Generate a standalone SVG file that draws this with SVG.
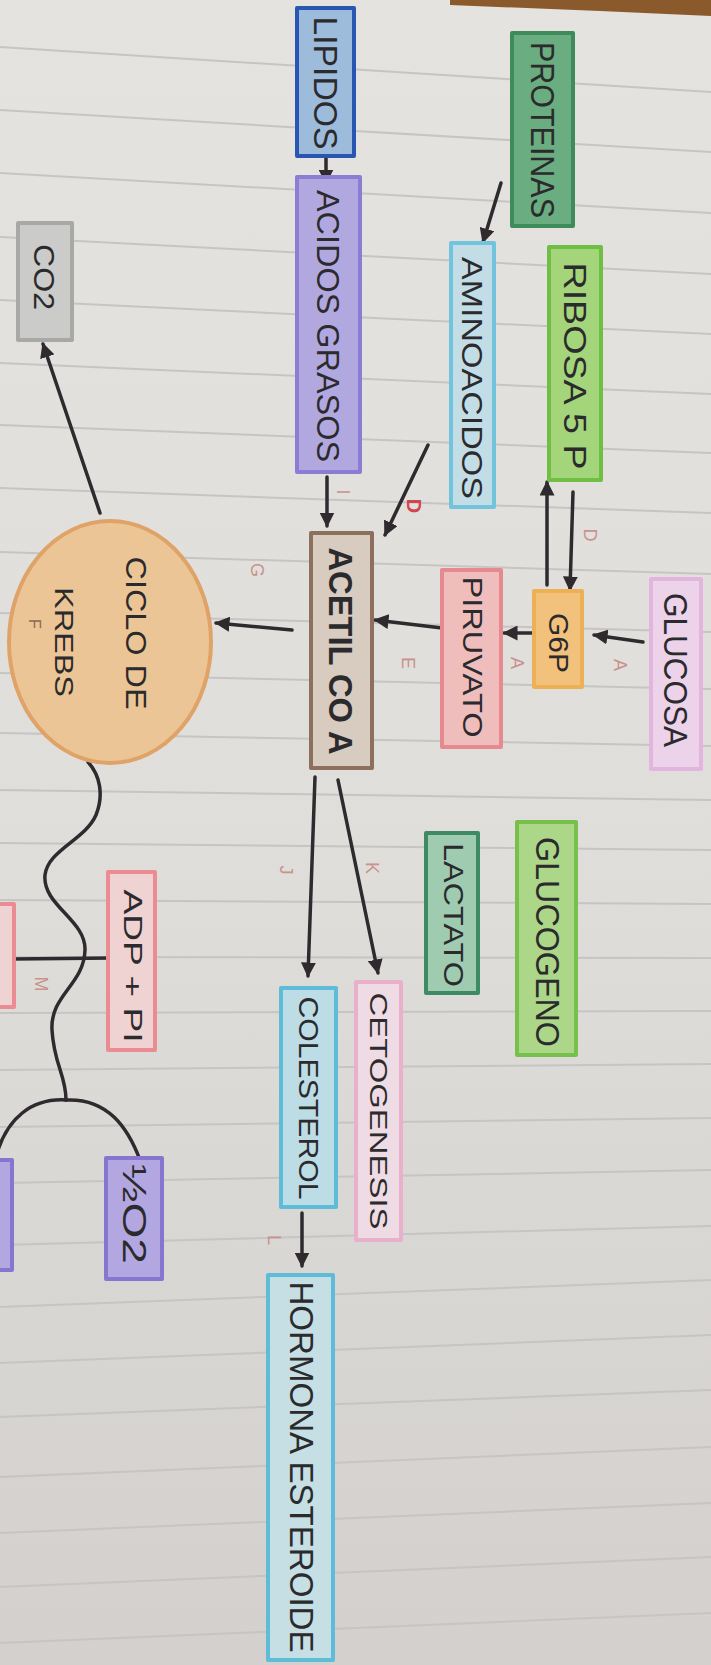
<svg xmlns="http://www.w3.org/2000/svg" width="711" height="1665" viewBox="0 0 711 1665">
<defs>
<linearGradient id="paper" x1="0" y1="0" x2="0" y2="1">
<stop offset="0" stop-color="#e4e3e0"/>
<stop offset="0.5" stop-color="#dfdedb"/>
<stop offset="1" stop-color="#d3d0cd"/>
</linearGradient>
<marker id="ah" viewBox="0 0 10 10" refX="9" refY="5" markerWidth="15" markerHeight="15" markerUnits="userSpaceOnUse" orient="auto">
<path d="M0,0 L10,5 L0,10 z" fill="#2f2a2e"/>
</marker>
<style>
.box{stroke-width:4;stroke-linejoin:round}
.t{font-family:"Liberation Sans",Arial,sans-serif;fill:#2b2a2c;text-anchor:middle;dominant-baseline:central}
.lbl{font-family:"Liberation Sans",Arial,sans-serif;fill:#c9928a;text-anchor:middle;dominant-baseline:central;font-size:18px}
.ln{stroke:#2f2a2e;stroke-width:3.5;fill:none;stroke-linecap:round}
.rule{stroke:#c6c5c3;stroke-width:2}
</style>
</defs>
<rect width="711" height="1665" fill="url(#paper)"/>
<g id="paper-lines">
<line class="rule" x1="0" y1="47" x2="711" y2="92"/>
<line class="rule" x1="0" y1="110" x2="711" y2="152"/>
<line class="rule" x1="0" y1="173" x2="711" y2="213"/>
<line class="rule" x1="0" y1="237" x2="711" y2="274"/>
<line class="rule" x1="0" y1="300" x2="711" y2="334"/>
<line class="rule" x1="0" y1="363" x2="711" y2="394"/>
<line class="rule" x1="0" y1="425" x2="711" y2="453"/>
<line class="rule" x1="0" y1="488" x2="711" y2="513"/>
<line class="rule" x1="0" y1="552" x2="711" y2="574"/>
<line class="rule" x1="0" y1="613" x2="711" y2="632"/>
<line class="rule" x1="0" y1="673" x2="711" y2="689"/>
<line class="rule" x1="0" y1="733" x2="711" y2="746"/>
<line class="rule" x1="0" y1="790" x2="711" y2="800"/>
<line class="rule" x1="0" y1="843" x2="711" y2="850"/>
<line class="rule" x1="0" y1="900" x2="711" y2="904"/>
<line class="rule" x1="0" y1="957" x2="711" y2="958"/>
<line class="rule" x1="0" y1="1013" x2="711" y2="1011"/>
<line class="rule" x1="0" y1="1070" x2="711" y2="1064"/>
<line class="rule" x1="0" y1="1127" x2="711" y2="1118"/>
<line class="rule" x1="0" y1="1183" x2="711" y2="1170"/>
<line class="rule" x1="0" y1="1245" x2="711" y2="1226"/>
<line class="rule" x1="0" y1="1307" x2="711" y2="1280"/>
<line class="rule" x1="0" y1="1363" x2="711" y2="1335"/>
<line class="rule" x1="0" y1="1417" x2="711" y2="1390"/>
<line class="rule" x1="0" y1="1477" x2="711" y2="1447"/>
<line class="rule" x1="0" y1="1533" x2="711" y2="1503"/>
<line class="rule" x1="0" y1="1587" x2="711" y2="1557"/>
<line class="rule" x1="0" y1="1643" x2="711" y2="1613"/>
</g>
<polygon points="450,0 711,0 711,16 600,11 450,5" fill="#8a5a2c"/>

<g id="connectors">
<line class="ln" x1="501" y1="183" x2="483" y2="242" marker-end="url(#ah)"/>
<line class="ln" x1="326" y1="157" x2="326" y2="183" marker-end="url(#ah)"/>
<line class="ln" x1="327" y1="477" x2="327" y2="526" marker-end="url(#ah)"/>
<line class="ln" x1="428" y1="445" x2="385" y2="535" marker-end="url(#ah)"/>
<line class="ln" x1="547" y1="585" x2="547" y2="482" marker-end="url(#ah)"/>
<line class="ln" x1="573" y1="492" x2="570" y2="590" marker-end="url(#ah)"/>
<line class="ln" x1="643" y1="642" x2="594" y2="635" marker-end="url(#ah)"/>
<line class="ln" x1="533" y1="633" x2="504" y2="633" marker-end="url(#ah)"/>
<line class="ln" x1="442" y1="628" x2="375" y2="620" marker-end="url(#ah)"/>
<line class="ln" x1="292" y1="630" x2="216" y2="623" marker-end="url(#ah)"/>
<line class="ln" x1="100" y1="513" x2="43" y2="344" marker-end="url(#ah)"/>
<line class="ln" x1="315" y1="777" x2="308" y2="976" marker-end="url(#ah)"/>
<line class="ln" x1="338" y1="780" x2="378" y2="973" marker-end="url(#ah)"/>
<line class="ln" x1="302" y1="1213" x2="302" y2="1266" marker-end="url(#ah)"/>
<path class="ln" d="M88 762 C100 775,104 795,96 815 C85 840,48 850,45 875 C42 905,86 920,85 950 C84 985,50 995,52 1030 C54 1065,66 1075,66 1100"/>
<path class="ln" d="M66 1100 C30 1098,8 1120,-2 1150"/>
<path class="ln" d="M66 1100 C108 1098,128 1128,140 1160"/>
<line class="ln" x1="13" y1="959" x2="112" y2="958" stroke-width="5"/>
</g>

<g id="labels">
<text class="lbl" transform="translate(349,222) rotate(90)" font-size="12">H</text>
<text class="lbl" transform="translate(343,492) rotate(90)">I</text>
<text class="lbl" transform="translate(414,506) rotate(90)" style="fill:#d2454f;font-weight:bold;font-size:20px">D</text>
<text class="lbl" transform="translate(590,535) rotate(90)">D</text>
<text class="lbl" transform="translate(620,665) rotate(90)">A</text>
<text class="lbl" transform="translate(517,663) rotate(90)">A</text>
<text class="lbl" transform="translate(408,663) rotate(90)">E</text>
<text class="lbl" transform="translate(257,570) rotate(90)">G</text>
<text class="lbl" transform="translate(286,870) rotate(90)">J</text>
<text class="lbl" transform="translate(372,868) rotate(90)">K</text>
<text class="lbl" transform="translate(274,1240) rotate(90)">L</text>
<text class="lbl" transform="translate(41,984) rotate(90)">M</text>
</g>

<g id="node-proteinas">
<rect class="box" x="512" y="33" width="61" height="193" fill="#6aad80" stroke="#3d8c5a"/>
<text class="t" transform="translate(543,130) rotate(90)" font-size="34" textLength="176" lengthAdjust="spacingAndGlyphs">PROTEINAS</text>
</g>
<g id="node-lipidos">
<rect class="box" x="297" y="8" width="57" height="148" fill="#9dbcdc" stroke="#2856b0" stroke-width="5"/>
<text class="t" transform="translate(326,83) rotate(90)" font-size="34" textLength="133" lengthAdjust="spacingAndGlyphs">LIPIDOS</text>
</g>
<g id="node-acidos-grasos">
<rect class="box" x="297" y="177" width="63" height="295" fill="#b2a8e0" stroke="#8b7dd3"/>
<text class="t" transform="translate(328,326) rotate(90)" font-size="32" textLength="272" lengthAdjust="spacingAndGlyphs">ACIDOS GRASOS</text>
</g>
<g id="node-co2">
<rect class="box" x="18" y="223" width="54" height="117" fill="#cbcbc9" stroke="#a8a8a6"/>
<text class="t" transform="translate(44,277) rotate(90)" font-size="30" textLength="66" lengthAdjust="spacingAndGlyphs">CO2</text>
</g>
<g id="node-aminoacidos">
<rect class="box" x="451" y="243" width="43" height="264" fill="#c2dde6" stroke="#72c3dc"/>
<text class="t" transform="translate(472,378) rotate(90)" font-size="30" textLength="242" lengthAdjust="spacingAndGlyphs">AMINOACIDOS</text>
</g>
<g id="node-ribosa">
<rect class="box" x="549" y="247" width="52" height="233" fill="#a4d57a" stroke="#6fbf45"/>
<text class="t" transform="translate(575,366) rotate(90)" font-size="32" textLength="207" lengthAdjust="spacingAndGlyphs">RIBOSA 5 P</text>
</g>
<g id="node-glucosa">
<rect class="box" x="651" y="579" width="50" height="190" fill="#ecd3ea" stroke="#e3b4e0"/>
<text class="t" transform="translate(676,670) rotate(90)" font-size="34" textLength="154" lengthAdjust="spacingAndGlyphs">GLUCOSA</text>
</g>
<g id="node-g6p">
<rect class="box" x="534" y="591" width="48" height="96" fill="#f2c27c" stroke="#edb055"/>
<text class="t" transform="translate(558,643) rotate(90)" font-size="28" textLength="60" lengthAdjust="spacingAndGlyphs">G6P</text>
</g>
<g id="node-piruvato">
<rect class="box" x="442" y="570" width="59" height="177" fill="#efbdbc" stroke="#e68a8f"/>
<text class="t" transform="translate(472,657) rotate(90)" font-size="28" textLength="161" lengthAdjust="spacingAndGlyphs">PIRUVATO</text>
</g>
<g id="node-acetil-coa">
<rect class="box" x="311" y="533" width="61" height="235" fill="#d8cbc0" stroke="#8c6f5c"/>
<text class="t" transform="translate(341,651) rotate(90)" font-size="34" font-weight="bold" textLength="207" lengthAdjust="spacingAndGlyphs">ACETIL CO A</text>
</g>
<g id="node-krebs">
<ellipse cx="110" cy="642" rx="101" ry="121" fill="#ecc596" stroke="#e0a367" stroke-width="4"/>
<text class="t" transform="translate(136,633) rotate(90)" font-size="30" textLength="153" lengthAdjust="spacingAndGlyphs">CICLO DE</text>
<text class="t" transform="translate(64,642) rotate(90)" font-size="26" textLength="110" lengthAdjust="spacingAndGlyphs">KREBS</text>
<text class="t" transform="translate(34,624) rotate(90)" font-size="16" style="fill:#8a6a50">F</text>
</g>
<g id="node-glucogeno">
<rect class="box" x="517" y="822" width="59" height="233" fill="#acd688" stroke="#76c04b"/>
<text class="t" transform="translate(548,942) rotate(90)" font-size="34" textLength="210" lengthAdjust="spacingAndGlyphs">GLUCOGENO</text>
</g>
<g id="node-lactato">
<rect class="box" x="426" y="833" width="52" height="160" fill="#9fcbb1" stroke="#3d8a64"/>
<text class="t" transform="translate(453,915) rotate(90)" font-size="28" textLength="144" lengthAdjust="spacingAndGlyphs">LACTATO</text>
</g>
<g id="node-cetogenesis">
<rect class="box" x="356" y="982" width="45" height="258" fill="#eedbe3" stroke="#e9b0cb"/>
<text class="t" transform="translate(378,1111) rotate(90)" font-size="24" textLength="237" lengthAdjust="spacingAndGlyphs">CETOGENESIS</text>
</g>
<g id="node-colesterol">
<rect class="box" x="281" y="988" width="55" height="219" fill="#bcdde6" stroke="#5fbcd8"/>
<text class="t" transform="translate(308,1098) rotate(90)" font-size="28" textLength="203" lengthAdjust="spacingAndGlyphs">COLESTEROL</text>
</g>
<g id="node-adp-pi">
<rect class="box" x="108" y="872" width="47" height="178" fill="#efd2d2" stroke="#ea8c92"/>
<text class="t" transform="translate(133,966) rotate(90)" font-size="26" textLength="153" lengthAdjust="spacingAndGlyphs">ADP + PI</text>
</g>
<g id="node-atp-partial">
<rect class="box" x="-10" y="904" width="24" height="103" fill="#efd2d2" stroke="#ea8c92"/>
</g>
<g id="node-half-o2">
<rect class="box" x="106" y="1158" width="56" height="121" fill="#b3a7e2" stroke="#8676d0"/>
<text class="t" transform="translate(135,1214) rotate(90)" font-size="34" textLength="100" lengthAdjust="spacingAndGlyphs">½O2</text>
</g>
<g id="node-h2o-partial">
<rect class="box" x="-10" y="1160" width="22" height="110" fill="#b3a7e2" stroke="#8676d0"/>
</g>
<g id="node-hormona">
<rect class="box" x="268" y="1275" width="65" height="385" fill="#c6dfe4" stroke="#5fbcd8"/>
<text class="t" transform="translate(302,1467) rotate(90)" font-size="34" textLength="371" lengthAdjust="spacingAndGlyphs">HORMONA ESTEROIDE</text>
</g>
</svg>
